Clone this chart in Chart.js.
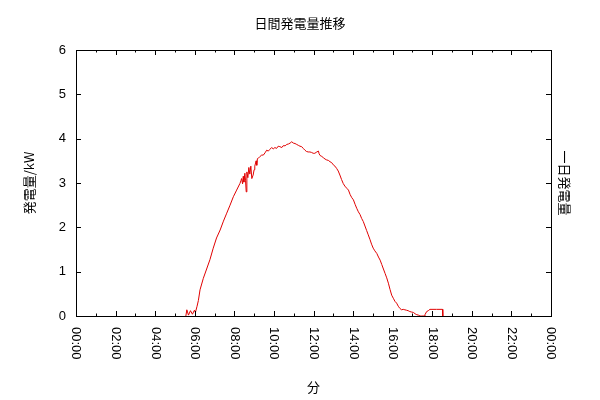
<!DOCTYPE html>
<html>
<head>
<meta charset="utf-8">
<script src="https://cdn.jsdelivr.net/npm/chart.js@4/dist/chart.umd.min.js"></script>
<style>
  html, body { margin: 0; padding: 0; background: #fff; }
</style>
</head>
<body>
<canvas id="chart" width="600" height="400"></canvas>
<script>
// Texts
const chartTitle = '日間発電量推移';
const xTitle = '分';
const yTitle = '発電量/kW';
const y2Title = '一日発電量';

// Tick labels (every 2 hours, in minutes)
const xTickLabels = ['00:00','02:00','04:00','06:00','08:00','10:00','12:00',
                     '14:00','16:00','18:00','20:00','22:00','00:00'];

// Minutes since 00:00
const minutes = [333,336,341,347,353,359,362,367,371,376,386,396,406,416,426,437,447,457,467,477,487,497,
  500,502,505,507,509,512,514,516,518,521,524,527,530,533,537,540,542,546,548,550,553,558,563,568,573,578,
  583,588,593,598,603,608,613,618,624,628,634,639,644,649,654,659,664,669,674,679,684,689,694,699,704,709,
  714,719,724,730,735,737,740,745,750,755,760,765,770,775,780,785,790,795,800,805,810,815,821,826,831,836,
  841,846,851,856,861,866,871,876,881,886,891,896,901,906,912,917,922,927,932,937,942,947,952,957,962,967,
  972,977,982,987,992,997,1002,1007,1012,1017,1023,1028,1033,1038,1043,1048,1055,1058,1063,1068,1073,1093,
  1111,1112];

// Power (kW)
const power = [0,0.14,0.02,0.12,0.04,0.13,0.08,0.22,0.35,0.59,0.85,1.06,1.27,1.53,1.76,1.94,2.14,2.32,2.50,2.69,2.84,2.99,
  3.05,3.10,2.98,3.15,3.02,3.22,3.05,2.80,3.25,3.12,3.35,3.20,3.38,3.10,3.18,3.30,3.38,3.50,3.40,3.55,3.56,3.60,3.63,3.63,3.68,3.74,
  3.72,3.76,3.80,3.77,3.80,3.78,3.83,3.82,3.80,3.84,3.84,3.87,3.88,3.90,3.93,3.90,3.89,3.87,3.85,3.83,3.82,3.78,3.74,3.71,3.70,3.70,
  3.69,3.67,3.67,3.70,3.72,3.66,3.62,3.60,3.57,3.54,3.52,3.51,3.48,3.46,3.41,3.38,3.33,3.27,3.18,3.08,2.99,2.93,2.88,2.84,2.74,2.67,
  2.62,2.52,2.43,2.35,2.29,2.20,2.13,2.03,1.93,1.83,1.73,1.62,1.53,1.47,1.41,1.33,1.26,1.16,1.06,0.96,0.86,0.74,0.60,0.47,0.40,0.33,
  0.29,0.22,0.17,0.14,0.15,0.14,0.13,0.12,0.10,0.09,0.08,0.05,0.03,0.02,0,0,0,0.03,0.10,0.12,0.15,0.15,
  0.15,0];

const FONT = '"Liberation Sans", "Noto Sans CJK JP", sans-serif';
const JP_FONT = '"Noto Sans CJK JP", sans-serif';

// gnuplot-like frame: border, inward ticks (mirrored), rotated x labels
const gnuFrame = {
  id: 'gnuFrame',
  afterDraw(chart) {
    const { ctx, chartArea: a, scales: { x, y } } = chart;
    const major = 5, minor = 2.5;
    ctx.save();
    ctx.strokeStyle = '#000';
    ctx.lineWidth = 1;
    ctx.beginPath();
    x.ticks.forEach(t => {
      const px = Math.round(x.getPixelForValue(t.value)) + 0.5;
      ctx.moveTo(px, a.bottom); ctx.lineTo(px, a.bottom - major);
      ctx.moveTo(px, a.top); ctx.lineTo(px, a.top + major);
      if (t.value + 60 < x.max) {
        const pm = Math.round(x.getPixelForValue(t.value + 60)) + 0.5;
        ctx.moveTo(pm, a.bottom); ctx.lineTo(pm, a.bottom - minor);
        ctx.moveTo(pm, a.top); ctx.lineTo(pm, a.top + minor);
      }
    });
    y.ticks.forEach(t => {
      const py = Math.round(y.getPixelForValue(t.value)) + 0.5;
      ctx.moveTo(a.left, py); ctx.lineTo(a.left + major, py);
      ctx.moveTo(a.right, py); ctx.lineTo(a.right - major, py);
    });
    ctx.stroke();
    ctx.strokeRect(Math.round(a.left) + 0.5, Math.round(a.top) + 0.5,
                   Math.round(a.right - a.left), Math.round(a.bottom - a.top));

    ctx.fillStyle = '#000';
    ctx.font = '13px ' + FONT;
    x.ticks.forEach((t, i) => {
      const px = x.getPixelForValue(t.value);
      ctx.save();
      ctx.translate(px, a.bottom + 11);
      ctx.rotate(Math.PI / 2);
      ctx.textAlign = 'left';
      ctx.textBaseline = 'middle';
      ctx.fillText(xTickLabels[i], 0, 0);
      ctx.restore();
    });
    ctx.restore();
  }
};

new Chart(document.getElementById('chart'), {
  type: 'line',
  data: {
    datasets: [{
      label: yTitle,
      data: minutes.map((m, i) => ({ x: m, y: power[i] })),
      borderColor: '#e00000',
      borderWidth: 1,
      pointRadius: 0,
      tension: 0,
      fill: false
    }]
  },
  options: {
    responsive: false,
    animation: false,
    layout: { padding: 0 },
    plugins: {
      legend: { display: false },
      tooltip: { enabled: false },
      title: {
        display: true,
        text: chartTitle,
        color: '#000',
        font: { family: JP_FONT, size: 13, weight: 'normal' },
        padding: { top: 15, bottom: 19.4 }
      }
    },
    scales: {
      x: {
        type: 'linear',
        min: 0, max: 1440,
        ticks: { stepSize: 120, display: false },
        grid: { display: false },
        border: { display: false },
        title: {
          display: true, text: xTitle, color: '#000',
          font: { family: JP_FONT, size: 13 },
          padding: { bottom: 5 }
        },
        afterFit: s => { s.height = 84; }
      },
      y: {
        position: 'left',
        min: 0, max: 6,
        ticks: { stepSize: 1, color: '#000', padding: 10, font: { family: FONT, size: 13 } },
        grid: { display: false, drawTicks: false },
        border: { display: false },
        title: {
          display: true, text: yTitle, color: '#000',
          font: { family: JP_FONT, size: 13 },
          padding: { top: 21 }
        },
        afterFit: s => { s.width = 76; }
      },
      y2: {
        position: 'right',
        min: 0, max: 6,
        ticks: { display: false },
        grid: { display: false, drawTicks: false },
        border: { display: false },
        title: {
          display: true, text: y2Title, color: '#000',
          font: { family: JP_FONT, size: 13 },
          padding: { top: 27 }
        },
        afterFit: s => { s.width = 49; }
      }
    }
  },
  plugins: [gnuFrame]
});
</script>
</body>
</html>
